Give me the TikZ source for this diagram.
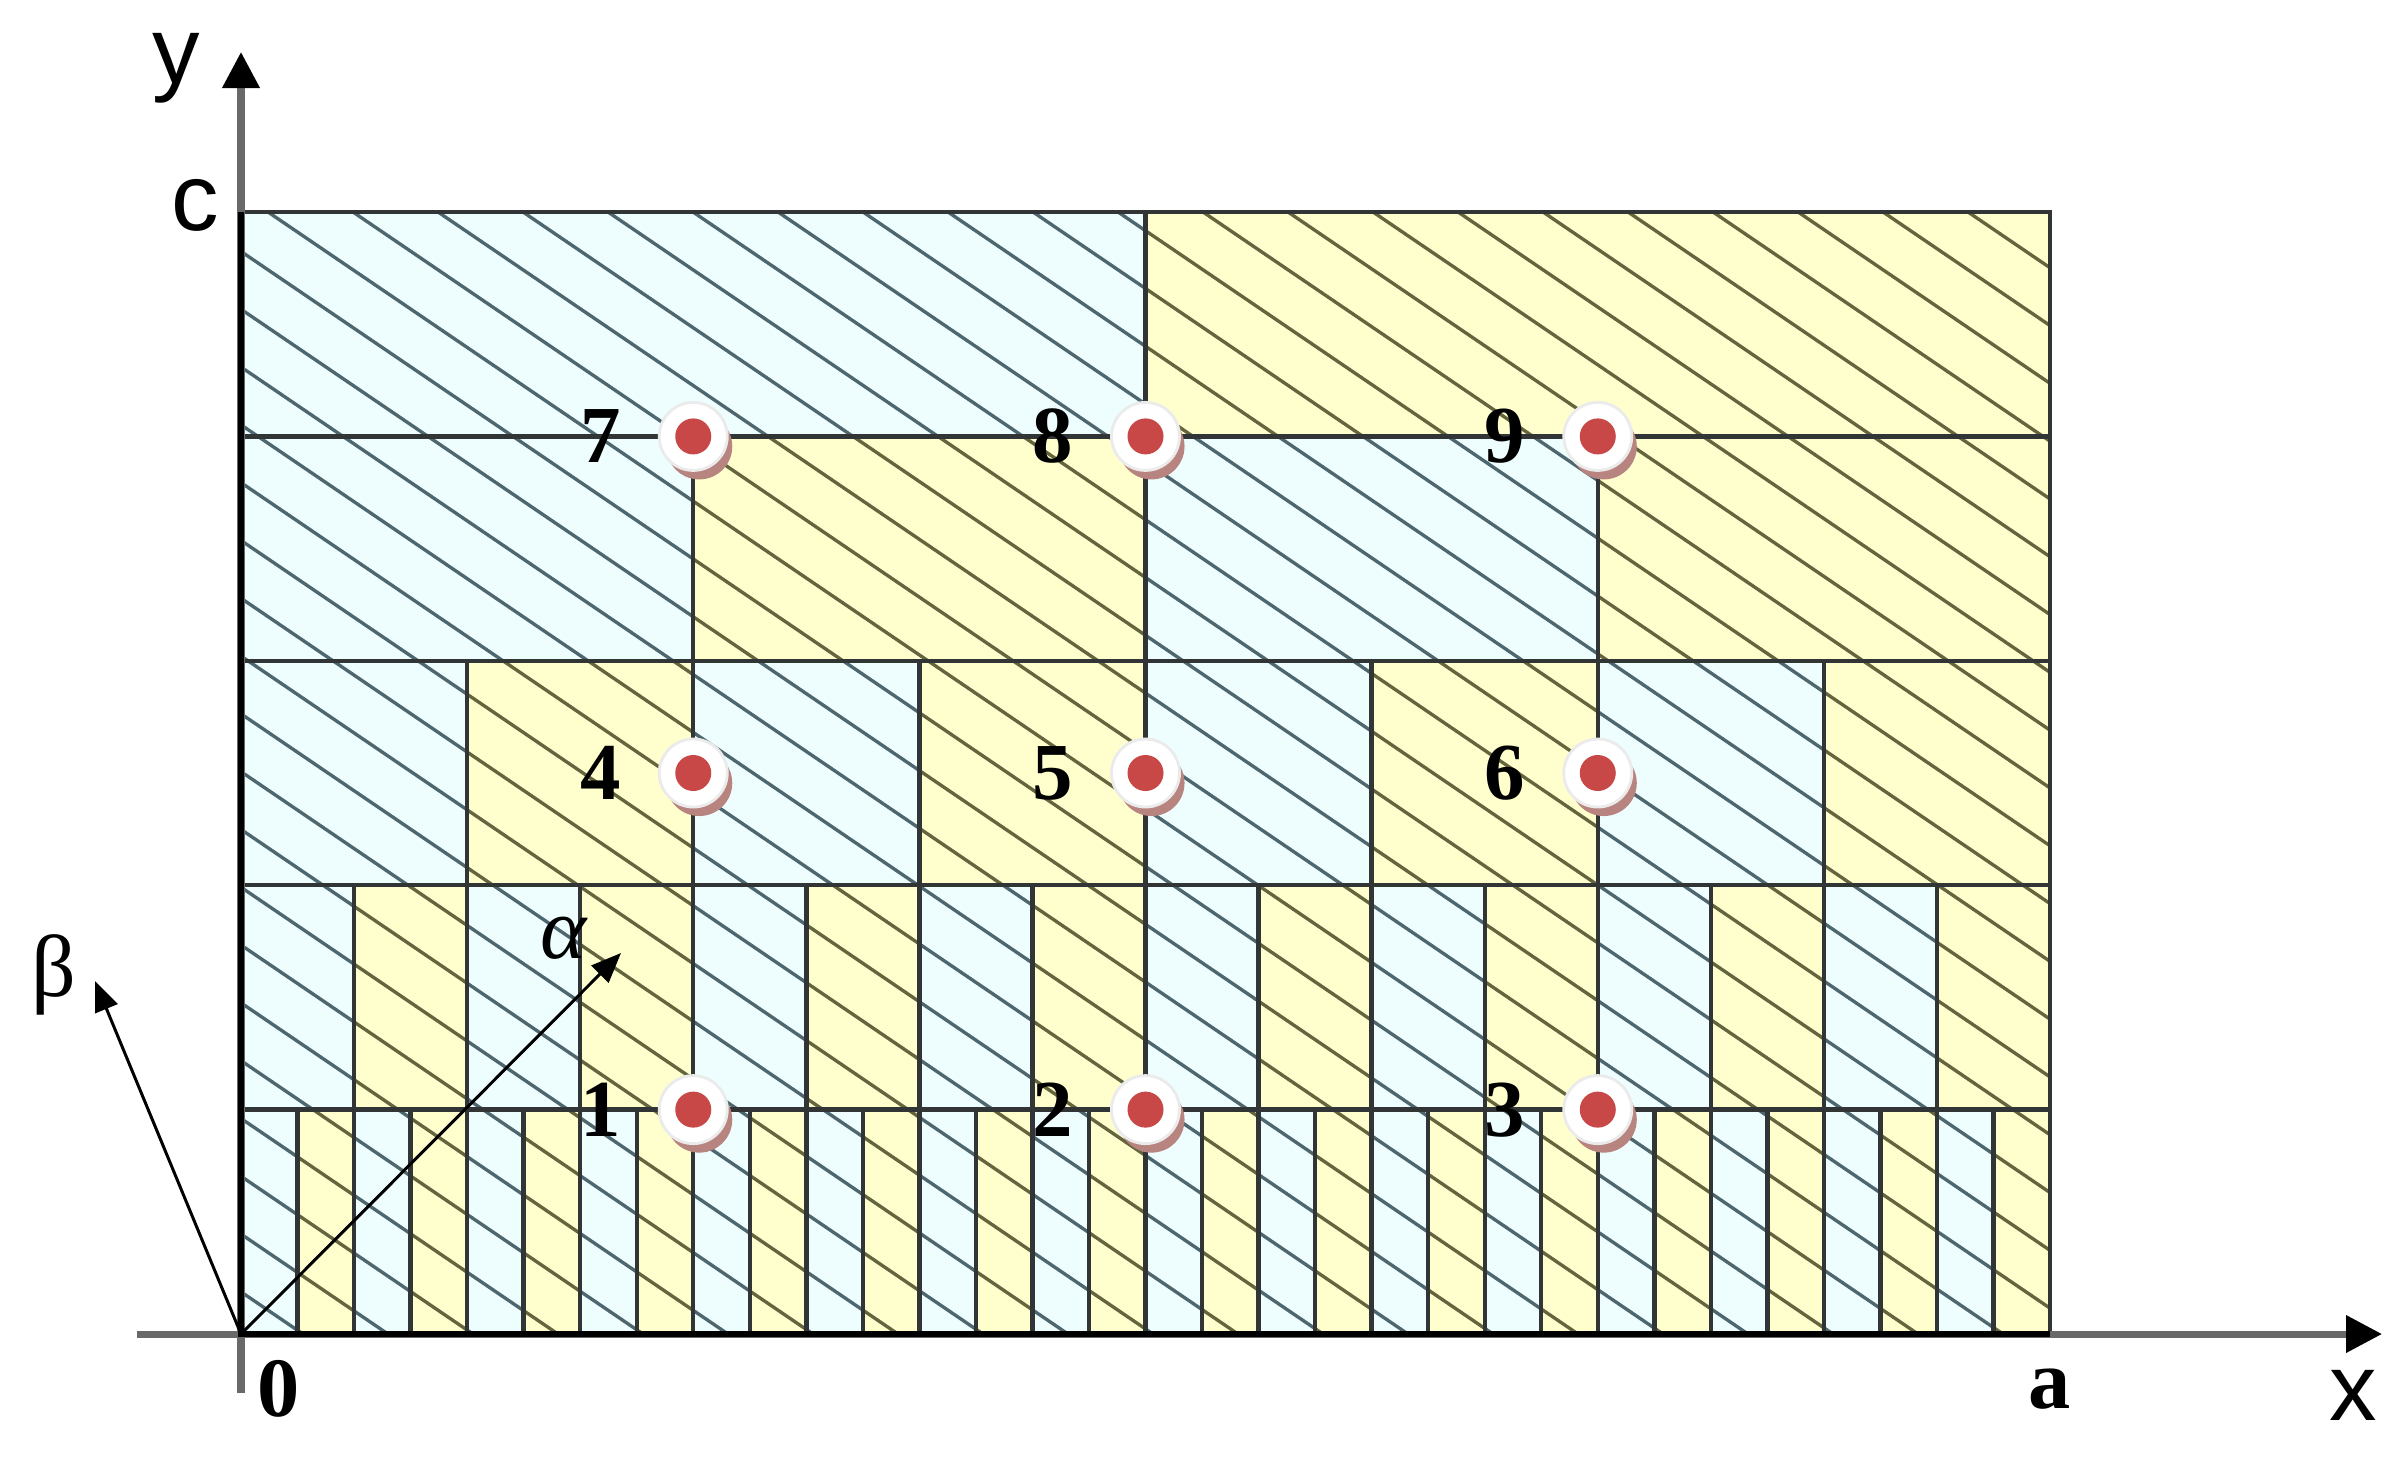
\documentclass[tikz,border=0pt]{standalone}
\usepackage{fontspec}
\setmainfont{Liberation Serif}
\setsansfont{Liberation Sans}
\usetikzlibrary{arrows.meta,positioning}

\definecolor{cellblue}{RGB}{238,254,255}
\definecolor{cellyellow}{RGB}{255,255,205}
\definecolor{hatchblue}{RGB}{78,102,110}
\definecolor{hatchyellow}{RGB}{100,100,62}
\definecolor{gridgray}{RGB}{50,53,53}
\definecolor{axisgray}{RGB}{105,105,105}
\definecolor{dotred}{RGB}{199,72,70}
\definecolor{dotshade}{RGB}{184,132,128}

\tikzset{every picture/.style={line width=0.75pt}}
\tikzset{
  gridline/.style={draw=gridgray, line width=1.25pt},
  hatchline/.style={line width=0.95pt},
  axisline/.style={draw=axisgray, line width=2pt, -{Triangle[length=0.36cm,width=0.36cm,color=black]}},
  vecline/.style={line width=0.85pt, -{Triangle[length=0.3cm,width=0.24cm]}},
  axislabel/.style={font=\sffamily\fontsize{27}{29}\selectfont, inner sep=0pt},
  greeklabel/.style={font=\fontsize{25}{27}\selectfont, inner sep=0pt},
  endlabel/.style={font=\bfseries\fontsize{24}{26}\selectfont, inner sep=0pt},
  pointlabel/.style={font=\bfseries\fontsize{23}{25}\selectfont, inner sep=0pt},
  probe/.style={circle, fill=white, draw=black!8, line width=0.8pt, minimum size=0.68cm, inner sep=0pt,
    path picture={\fill[dotred] (path picture bounding box.center) circle (0.18cm);}}
}

\begin{document}
\begin{tikzpicture}[x=0.01cm,y=0.01cm,yscale=-1,xscale=1]
  \useasboundingbox (0,0) rectangle (2404,1463);

  % corners of the domain
  \coordinate (O) at (241,1334);
  \coordinate (C) at (241,212);
  \coordinate (A) at (2050,1334);
  \coordinate (AC) at (2050,212);

  %Shape: Rectangle cells, row r holds n cells
  \foreach \r/\n in {1/2,2/4,3/8,4/16,5/32}
    \foreach \j in {1,...,\n}{
      \pgfmathsetmacro{\xa}{241+(\j-1)*(1809/\n)}
      \pgfmathsetmacro{\xb}{241+\j*(1809/\n)}
      \pgfmathsetmacro{\ya}{212+224.4*(\r-1)}
      \pgfmathsetmacro{\yb}{212+224.4*\r}
      \ifodd\j \def\cellfill{cellblue}\else \def\cellfill{cellyellow}\fi
      \fill[\cellfill] (\xa,\ya) rectangle (\xb,\yb);
    }

  %Hatching on the blue cells
  \begin{scope}
    \clip \foreach \r/\n/\h in {1/2/1,2/4/2,3/8/4,4/16/8,5/32/16}{
        \foreach \k in {1,...,\h}{
          ({241+(2*\k-2)*(1809/\n)},{212+224.4*(\r-1)}) rectangle ({241+(2*\k-1)*(1809/\n)},{212+224.4*\r})
        }
      };
    \foreach \k in {0,...,43}
      \draw[hatchline, hatchblue] (218+85*\k,1334) -- ++(-1650,-1122);
  \end{scope}
  %Hatching on the yellow cells
  \begin{scope}
    \clip \foreach \r/\n/\h in {1/2/1,2/4/2,3/8/4,4/16/8,5/32/16}{
        \foreach \k in {1,...,\h}{
          ({241+(2*\k-1)*(1809/\n)},{212+224.4*(\r-1)}) rectangle ({241+(2*\k)*(1809/\n)},{212+224.4*\r})
        }
      };
    \foreach \k in {0,...,43}
      \draw[hatchline, hatchyellow] (218+85*\k,1334) -- ++(-1650,-1122);
  \end{scope}

  %Straight Lines: cell borders
  \foreach \r/\n in {1/2,2/4,3/8,4/16,5/32}
    \foreach \j in {1,...,\n}{
      \pgfmathsetmacro{\xa}{241+(\j-1)*(1809/\n)}
      \pgfmathsetmacro{\xb}{241+\j*(1809/\n)}
      \pgfmathsetmacro{\ya}{212+224.4*(\r-1)}
      \pgfmathsetmacro{\yb}{212+224.4*\r}
      \draw[gridline] (\xa,\ya) rectangle (\xb,\yb);
    }

  %Axes
  \coordinate (xstart) at (137,1334);
  \coordinate (xend) at (2382,1334);
  \coordinate (ystart) at (241,1393);
  \coordinate (yend) at (241,52);
  \draw[axisline] (xstart) -- (xend);
  \draw[axisline] (ystart) -- (yend);
  \draw[black, line width=1.6pt] (C) -- (O) -- (A);

  %Straight Lines: alpha and beta directions
  \coordinate (atip) at (621,953);
  \coordinate (btip) at (95,981);
  \draw[vecline] (O) -- (atip);
  \draw[vecline] (O) -- (btip);

  %Shape: Circles at the probe points
  \foreach \i/\px/\py in {1/693.25/1109.6, 2/1145.5/1109.6, 3/1597.75/1109.6,
                          4/693.25/773, 5/1145.5/773, 6/1597.75/773,
                          7/693.25/436.4, 8/1145.5/436.4, 9/1597.75/436.4}{
    \fill[dotshade] (\px+6,\py+10) circle (0.33cm);
    \node[probe] (d\i) at (\px,\py) {};
    \node[pointlabel, left=0.36cm of d\i] (n\i) {\i};
  }

  % Text Node
  \node[axislabel] (ylab) at (176,68) {y};
  % Text Node
  \node[axislabel] (clab) at (195,205) {c};
  % Text Node
  \node[axislabel] (xlab) at (2353,1395) {x};
  % Text Node
  \node[endlabel] (zlab) at (279,1389) {0};
  % Text Node
  \node[endlabel] (alab) at (2050,1389) {a};
  % Text Node
  \node[greeklabel] (blab) at (54,975) {β};
  % Text Node
  \node[greeklabel, font=\itshape\fontsize{25}{27}\selectfont] (glab) at (564,938) {α};

\end{tikzpicture}
\end{document}
